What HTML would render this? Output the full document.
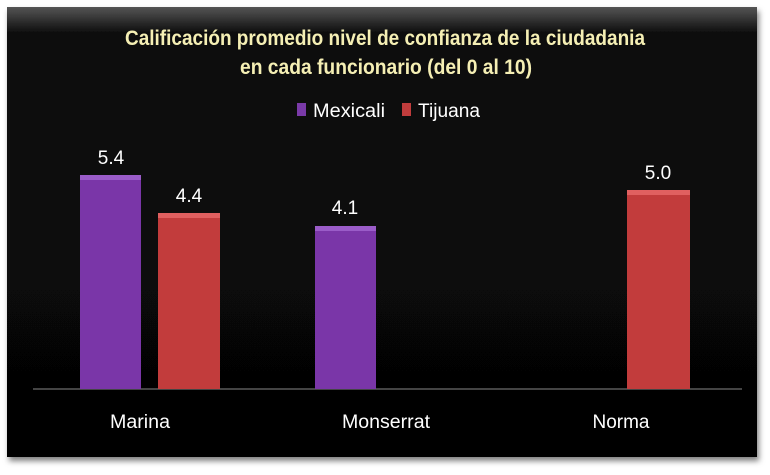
<!DOCTYPE html>
<html><head><meta charset="utf-8"><style>
body{margin:0;background:#fff;width:770px;height:470px;overflow:hidden}
</style></head><body>
<svg width="770" height="470" xmlns="http://www.w3.org/2000/svg" font-family="Liberation Sans, sans-serif">
<defs>
<filter id="sh" x="-5%" y="-5%" width="110%" height="115%"><feDropShadow dx="2" dy="4" stdDeviation="3" flood-color="#000" flood-opacity="0.5"/></filter>
<linearGradient id="top" x1="0" y1="0" x2="0" y2="1"><stop offset="0" stop-color="#555"/><stop offset="0.06" stop-color="#0a0a0a"/><stop offset="1" stop-color="#050505"/></linearGradient>
</defs>
<rect x="7" y="7" width="750" height="450" fill="url(#top)" filter="url(#sh)"/>
<g fill="#f5efb4" font-weight="bold" font-size="21" text-anchor="middle">
<text x="385" y="45" textLength="520" lengthAdjust="spacingAndGlyphs">Calificación promedio nivel de confianza de la ciudadania</text>
<text x="386" y="74" textLength="292" lengthAdjust="spacingAndGlyphs">en cada funcionario (del 0 al 10)</text>
</g>
<rect x="297" y="103" width="9" height="13" fill="#7a3aa8"/>
<rect x="402" y="103" width="9" height="13" fill="#c03c3c"/>
<g fill="#fff" font-size="19">
<text x="313" y="117" textLength="72" lengthAdjust="spacingAndGlyphs">Mexicali</text>
<text x="418" y="117" textLength="62" lengthAdjust="spacingAndGlyphs">Tijuana</text>
</g>
<line x1="33" y1="389" x2="742" y2="389" stroke="#888" stroke-width="1"/>
<rect x="80" y="175" width="61" height="214" fill="#7a36a8"/>
<rect x="80" y="175" width="61" height="5" fill="#9a5cc8"/>
<rect x="158" y="213" width="62" height="176" fill="#c23c3c"/>
<rect x="158" y="213" width="62" height="5" fill="#e06060"/>
<rect x="315" y="226" width="61" height="163" fill="#7a36a8"/>
<rect x="315" y="226" width="61" height="5" fill="#9a5cc8"/>
<rect x="627" y="190" width="63" height="199" fill="#c23c3c"/>
<rect x="627" y="190" width="63" height="5" fill="#e06060"/>
<g fill="#fff" font-size="19" text-anchor="middle">
<text x="111" y="164">5.4</text>
<text x="189" y="202">4.4</text>
<text x="345" y="214">4.1</text>
<text x="658" y="179">5.0</text>
<text x="140" y="428" textLength="60" lengthAdjust="spacingAndGlyphs">Marina</text>
<text x="386" y="428" textLength="88" lengthAdjust="spacingAndGlyphs">Monserrat</text>
<text x="621" y="428" textLength="57" lengthAdjust="spacingAndGlyphs">Norma</text>
</g>
</svg>
</body></html>
